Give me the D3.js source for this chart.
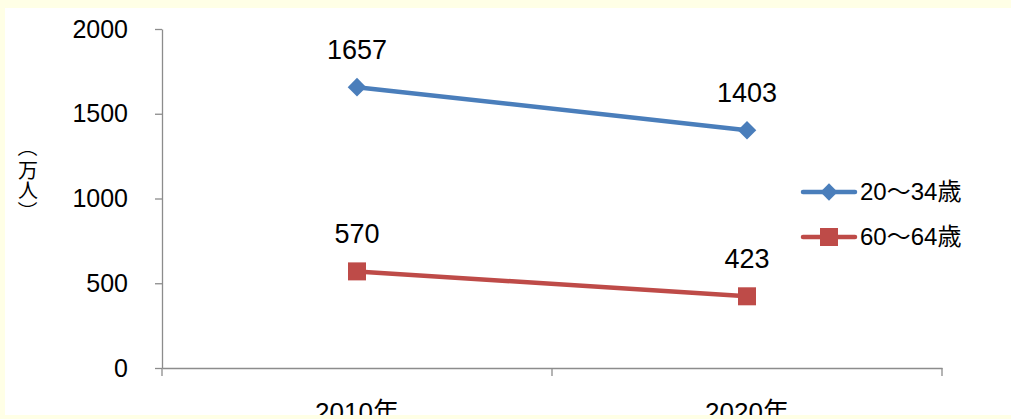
<!DOCTYPE html>
<html><head><meta charset="utf-8">
<script src="https://cdn.jsdelivr.net/npm/d3@7"></script>
<style>
html,body{margin:0;padding:0;background:#FFFFE6;}
svg{display:block;}
text{font-family:"Liberation Sans","Noto Sans CJK JP",sans-serif;fill:#000;}
text.cjk{font-family:"Noto Sans CJK JP",sans-serif;}
</style></head><body>
<script>
const categories = ["2010年", "2020年"];
const seriesNames = ["20〜34歳", "60〜64歳"];
const series1 = [1657, 1403];
const series2 = [570, 423];
const yTicks = [0, 500, 1000, 1500, 2000];
const yLabel = "（万人）";

const W = 1011, H = 419;
const svg = d3.select("body").append("svg").attr("width", W).attr("height", H);
svg.append("rect").attr("width", W).attr("height", H).attr("fill", "#FFFFE6");
svg.append("defs").append("clipPath").attr("id","panel")
  .append("rect").attr("x",5).attr("y",8).attr("width",W-5).attr("height",407);
const g = svg.append("g").attr("clip-path","url(#panel)");
g.append("rect").attr("x",5).attr("y",8).attr("width",W-5).attr("height",407).attr("fill","#fff");

const x0 = 162, x1 = 942, yTop = 29, yBot = 368;
const xBand = d3.scaleBand().domain(categories).range([x0, x1]);
const y = d3.scaleLinear().domain([0, 2000]).range([yBot, yTop]);
const xc = d => xBand(d) + xBand.bandwidth()/2;
const axisColor = "#8c8c8c";

// Y axis
const ya = g.append("g").attr("transform", `translate(${x0},0)`)
  .call(d3.axisLeft(y).tickValues(yTicks).tickFormat(d3.format("d")).tickSize(7).tickPadding(27).tickSizeOuter(0));
ya.select(".domain").attr("stroke", axisColor).attr("stroke-width",1.3);
ya.selectAll(".tick line").attr("stroke", axisColor).attr("stroke-width",1.3);
ya.selectAll(".tick text").attr("font-size", 25).attr("fill","#000");

// X axis
const xa = g.append("g").attr("transform", `translate(0,${yBot})`)
  .call(d3.axisBottom(xBand).tickSize(0).tickPadding(35));
xa.select(".domain").attr("stroke", axisColor).attr("stroke-width",1.3);
xa.selectAll(".tick text").attr("font-size", 26).attr("fill","#000");
const bounds = [x0, ...categories.slice(1).map(c => xBand(c)), x1];
xa.selectAll(".btick").data(bounds).enter().append("line")
  .attr("x1", d=>d).attr("x2", d=>d).attr("y1", 0).attr("y2", 8)
  .attr("stroke", axisColor).attr("stroke-width",1.3);

// Y label (vertical, char by char; brackets rotated like vertical CJK text)
const fs = 20, lx = 28;
const chars = Array.from(yLabel);
const charY = [147, 169, 189, 211];
chars.forEach((c, i) => {
  const cy = charY[i];
  const t = g.append("text").attr("class","cjk").attr("x", lx).attr("y", cy)
    .attr("text-anchor","middle").attr("dominant-baseline","central")
    .attr("font-size", fs).text(c);
  if (c === "（" || c === "）") t.attr("transform", `rotate(90,${lx},${cy})`);
});

const colors = ["#4A7EBB", "#BE4B48"];
const data = [series1, series2];
const line = d3.line().x((d,i)=>xc(categories[i])).y(d=>y(d));

data.forEach((s, k) => {
  g.append("path").datum(s).attr("d", line).attr("fill","none")
    .attr("stroke", colors[k]).attr("stroke-width", 4.5).attr("stroke-linecap","round");
  s.forEach((v,i) => {
    const cx = xc(categories[i]), cy = y(v);
    if (k === 0) {
      g.append("path").attr("d", d3.symbol().type(d3.symbolDiamond2).size(220)())
        .attr("transform", `translate(${cx},${cy})`).attr("fill", colors[k]);
    } else {
      g.append("rect").attr("x", cx-9).attr("y", cy-9).attr("width",18).attr("height",18)
        .attr("fill", colors[k]);
    }
    g.append("text").attr("x", cx).attr("y", cy - 28).attr("text-anchor","middle")
      .attr("font-size", 27).text(v);
  });
});

// Legend
const ly = [192, 237];
seriesNames.forEach((n,k) => {
  g.append("line").attr("x1",803).attr("x2",855).attr("y1",ly[k]).attr("y2",ly[k])
    .attr("stroke",colors[k]).attr("stroke-width",4.5).attr("stroke-linecap","round");
  if (k===0) {
    g.append("path").attr("d", d3.symbol().type(d3.symbolDiamond2).size(190)())
      .attr("transform", `translate(829,${ly[k]})`).attr("fill", colors[k]);
  } else {
    g.append("rect").attr("x", 820).attr("y", ly[k]-9).attr("width",18).attr("height",18).attr("fill",colors[k]);
  }
  g.append("text").attr("x", 860).attr("y", ly[k]+8).attr("font-size", 24).text(n);
});
</script>
</body></html>
